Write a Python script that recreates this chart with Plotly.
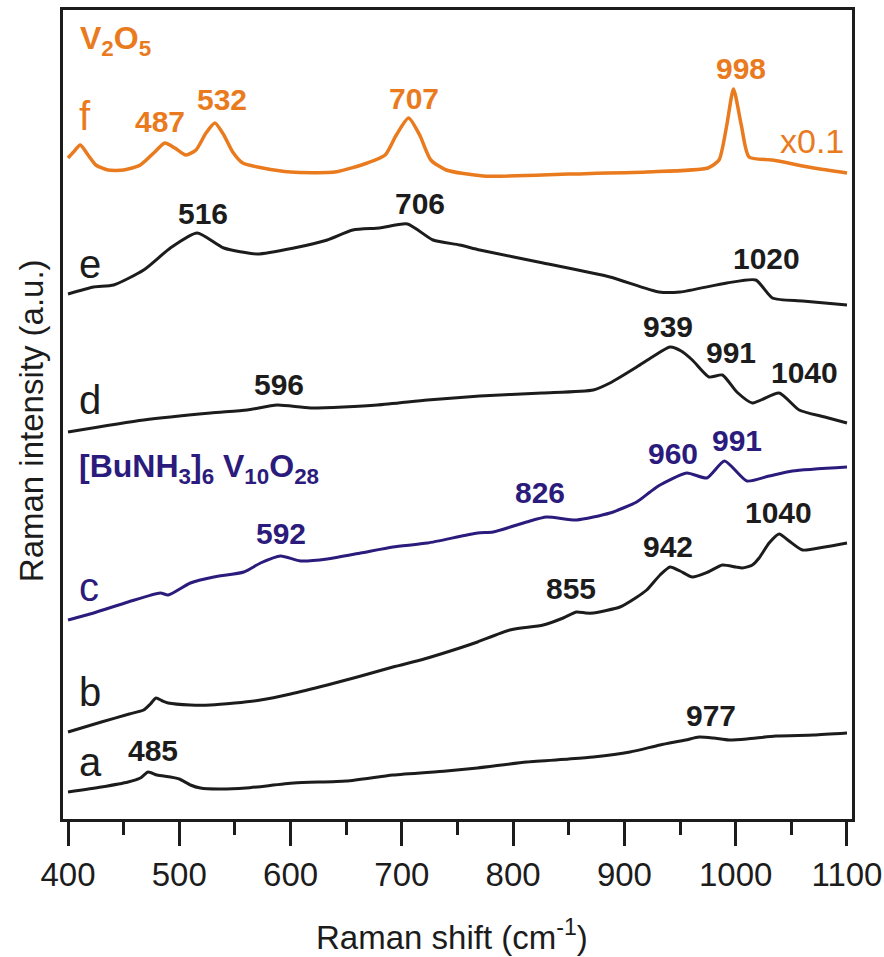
import plotly.graph_objects as go

# ---------------- data (Raman shift in cm^-1, intensity in a.u., offset stacked) ----------------
a_x = [400, 430, 454, 465, 472, 480, 492, 500, 510, 519, 535, 560, 603, 650, 692, 740, 768, 812, 850, 872, 905, 932, 955, 967, 980, 994, 1010, 1036, 1070, 1100]
a_y = [27, 32, 37, 41, 47, 44, 42, 40, 34, 31, 30, 31, 36, 38, 44, 48, 51, 57, 60, 62, 67, 74, 79, 82, 81, 79, 80, 83, 84, 86]

b_x = [400, 430, 455, 468, 474, 479, 485, 490, 510, 528, 550, 573, 600, 633, 660, 692, 720, 752, 768, 797, 827, 845, 857, 865, 872, 896, 910, 920, 932, 941, 950, 961, 975, 988, 1000, 1006, 1015, 1021, 1030, 1039, 1048, 1060, 1080, 1100]
b_y = [87, 97, 105, 109, 115, 121, 118, 116, 114, 114, 116, 119, 125, 134, 142, 152, 160, 171, 177, 189, 194, 201, 207, 206, 206, 212, 221, 229, 244, 252, 248, 242, 247, 254, 252, 251, 254, 261, 276, 285, 278, 269, 272, 276]

c_x = [400, 423, 454, 483, 490, 510, 531, 558, 573, 591, 609, 633, 663, 692, 723, 768, 782, 812, 830, 857, 887, 911, 923, 932, 956, 974, 990, 1010, 1030, 1051, 1100]
c_y = [199, 206, 217, 226, 224, 236, 242, 247, 256, 263, 258, 260, 266, 272, 276, 286, 287, 297, 302, 299, 306, 317, 327, 334, 346, 341, 358, 338, 343, 348, 352]

d_x = [400, 468, 528, 561, 588, 618, 678, 723, 770, 826, 872, 887, 911, 925, 941, 951, 961, 976, 988, 1001, 1015, 1039, 1057, 1080, 1100]
d_y = [387, 399, 406, 409, 414, 411, 414, 419, 423, 426, 429, 436, 452, 462, 472, 468, 459, 442, 444, 427, 416, 426, 409, 402, 396]

e_x = [400, 423, 441, 468, 492, 516, 540, 570, 603, 633, 656, 680, 705, 728, 752, 770, 827, 887, 931, 950, 992, 1018, 1033, 1060, 1100]
e_y = [525, 532, 534, 549, 571, 586, 571, 565, 571, 579, 589, 591, 595, 579, 574, 569, 556, 542, 527, 527, 536, 539, 521, 518, 514]

f_x = [400, 405, 411, 418, 425, 436, 450, 465, 478, 487, 496, 506, 515, 524, 532, 540, 548, 557, 575, 600, 640, 669, 685, 695, 706, 716, 726, 740, 773, 850, 920, 975, 985, 992, 998, 1005, 1012, 1033, 1070, 1100]
f_y = [661, 667, 674, 664, 654, 649, 649, 654, 667, 676, 671, 664, 669, 686, 696, 684, 667, 656, 651, 647, 647, 656, 664, 684, 701, 684, 659, 649, 643, 645, 647, 651, 659, 694, 730, 694, 662, 659, 651, 646]

x_ticks = [400, 500, 600, 700, 800, 900, 1000, 1100]

# peak labels: (text, x, y, colour key)
peak_text = ["485", "977", "855", "942", "1040", "592", "826", "960", "991", "596", "939", "991", "1040", "516", "706", "1020", "487", "532", "707", "998"]
peak_x = [476, 978, 852, 939, 1038, 591, 824, 944, 1001, 590, 939, 996, 1062, 521, 716, 1028, 483, 538, 711, 1005]
peak_y = [69, 104, 231, 273, 307, 286, 327, 366, 379, 435, 493, 467, 447, 606, 616, 561, 698, 720, 721, 751]
peak_col = ["k", "k", "k", "k", "k", "b", "b", "b", "b", "k", "k", "k", "k", "k", "k", "k", "o", "o", "o", "o"]

curve_letters = ["a", "b", "c", "d", "e", "f"]
letter_y = [57, 127, 232, 419, 555, 703]
letter_col = ["k", "k", "b", "k", "k", "o"]

BLACK = "#1c1c1c"
BLUE = "#2b1b7c"
ORANGE = "#e97b1e"
COL = {"k": BLACK, "b": BLUE, "o": ORANGE}
FONT = "Liberation Sans, Arial, sans-serif"

fig = go.Figure()
series = [(a_x, a_y, BLACK), (b_x, b_y, BLACK), (c_x, c_y, BLUE),
          (d_x, d_y, BLACK), (e_x, e_y, BLACK), (f_x, f_y, ORANGE)]
for xs, ys, col in series:
    fig.add_trace(go.Scatter(x=xs, y=ys, mode="lines",
                             line=dict(color=col, width=3.5 if col == ORANGE else 3,
                                       shape="spline", smoothing=0.6),
                             hoverinfo="skip", showlegend=False))

ann = []
for t, x, y, c in zip(peak_text, peak_x, peak_y, peak_col):
    ann.append(dict(x=x, y=y, xref="x", yref="y", text="<b>%s</b>" % t, showarrow=False,
                    xanchor="center", yanchor="middle",
                    font=dict(family=FONT, size=30, color=COL[c])))
for t, y, c in zip(curve_letters, letter_y, letter_col):
    ann.append(dict(x=408, y=y, xref="x", yref="y", text=t, showarrow=False,
                    xanchor="left", yanchor="middle",
                    font=dict(family=FONT, size=40, color=COL[c])))
ann.append(dict(x=1038, y=678, xref="x", yref="y", text="x0.1", showarrow=False,
                xanchor="left", yanchor="middle",
                font=dict(family=FONT, size=34, color=ORANGE)))
ann.append(dict(x=409, y=779, xref="x", yref="y", text="<b>V<sub>2</sub>O<sub>5</sub></b>",
                showarrow=False, xanchor="left", yanchor="middle",
                font=dict(family=FONT, size=32, color=ORANGE)))
ann.append(dict(x=408, y=351, xref="x", yref="y",
                text="<b>[BuNH<sub>3</sub>]<sub>6</sub> V<sub>10</sub>O<sub>28</sub></b>",
                showarrow=False, xanchor="left", yanchor="middle",
                font=dict(family=FONT, size=32, color=BLUE)))
# axis titles
ann.append(dict(x=0.493, y=-0.143, xref="paper", yref="paper",
                text="Raman shift (cm<sup>-1</sup>)", showarrow=False,
                xanchor="center", yanchor="middle",
                font=dict(family=FONT, size=33, color=BLACK)))
ann.append(dict(x=-0.039, y=0.492, xref="paper", yref="paper",
                text="Raman intensity (a.u.)", showarrow=False, textangle=-90,
                xanchor="center", yanchor="middle",
                font=dict(family=FONT, size=33, color=BLACK)))

fig.update_layout(
    width=884, height=957,
    margin=dict(l=63, r=32, t=10, b=138, autoexpand=False),
    paper_bgcolor="white", plot_bgcolor="white",
    annotations=ann,
    xaxis=dict(range=[395.5, 1104.5], tickvals=x_ticks, ticks="outside", ticklen=24,
               tickwidth=3, tickcolor=BLACK, showline=True, linewidth=3, linecolor=BLACK,
               mirror=True, showgrid=False, zeroline=False, automargin=False,
               ticklabeloverflow="allow",
               tickfont=dict(family=FONT, size=33, color=BLACK),
               minor=dict(dtick=50, ticks="outside", ticklen=13, tickwidth=3,
                          tickcolor=BLACK, showgrid=False)),
    yaxis=dict(range=[0, 809], showline=True, linewidth=3, linecolor=BLACK, mirror=True,
               showticklabels=False, ticks="", showgrid=False, zeroline=False,
               automargin=False),
)

# remove the default page margin so the 884x957 figure fills the window exactly
fig.write_html("out.html",
               config={"displayModeBar": False},
               post_script="document.body.style.margin='0';"
                           "document.documentElement.style.overflow='hidden';")
